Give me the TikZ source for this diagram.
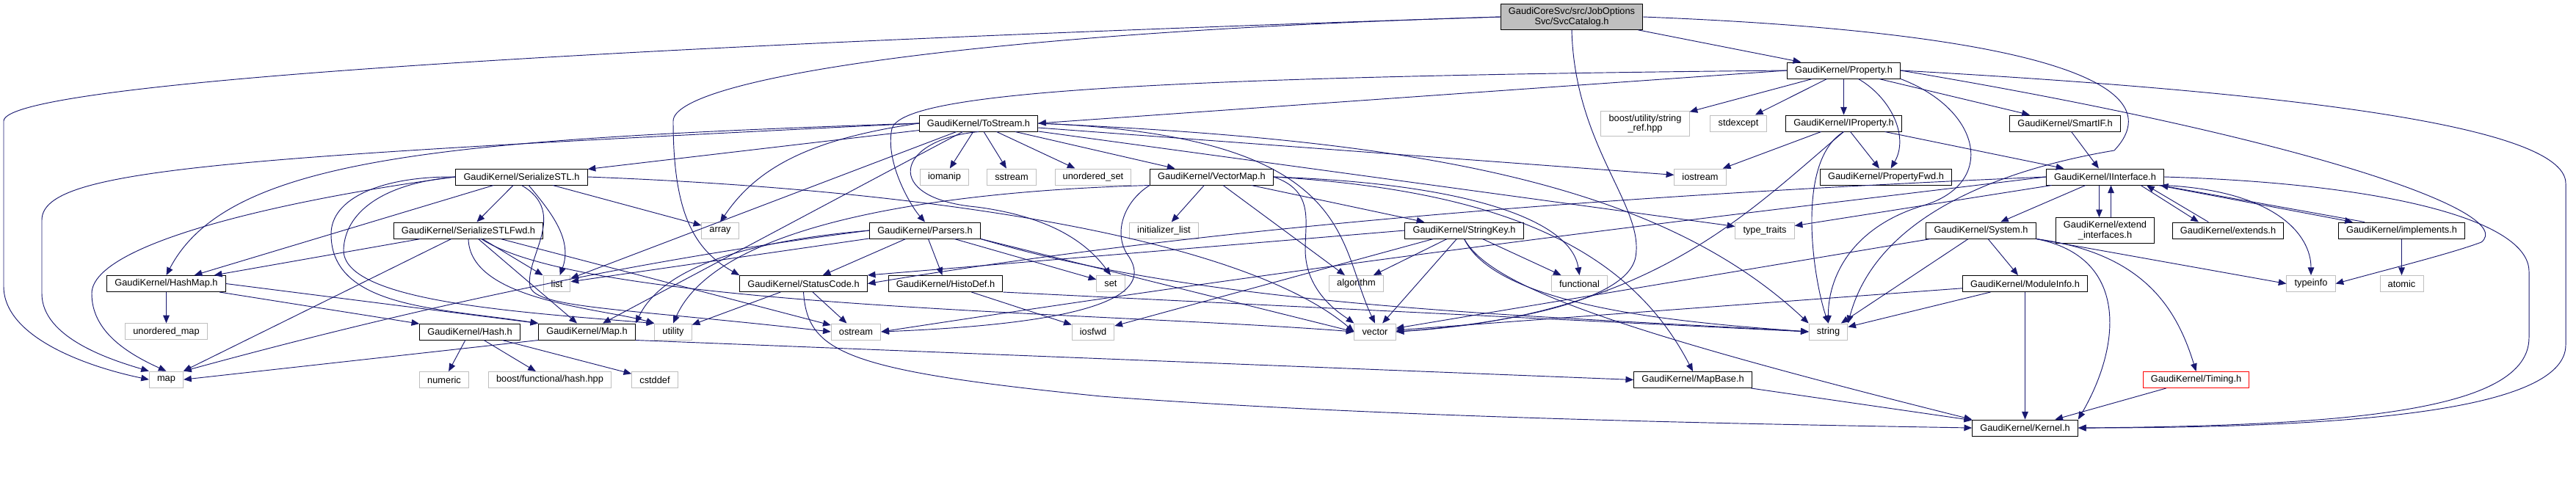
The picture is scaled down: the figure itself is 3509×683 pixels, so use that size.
\documentclass[tikz,border=0pt]{standalone}
\usepackage{fontspec}
\setmainfont{Liberation Sans}
\usetikzlibrary{positioning,arrows.meta}

\tikzstyle{block} = [rectangle, draw=black, line width=0.75pt, fill=white, text centered, align=center, inner xsep=8pt, inner ysep=1pt, minimum height=16.5pt, font=\fontsize{9.6}{10.2}\selectfont]
\tikzstyle{ext} = [block, draw=grey1]
\tikzstyle{rootblock} = [block, fill=grey1, minimum height=26pt]
\tikzstyle{trunc} = [block, draw=red1]
\tikzstyle{dep} = [draw=blue1, line width=0.7pt, -{Triangle[length=8pt, width=6.5pt]}]
\definecolor{blue1}{RGB}{25,25,112}
\definecolor{grey1}{RGB}{191,191,191}
\definecolor{red1}{RGB}{255,0,0}

\begin{document}
\begin{tikzpicture}[x=0.75pt, y=-0.75pt]
	\useasboundingbox (0,0) rectangle (3509,683);
	% Headers
	\node [rootblock] (C01) at (2141,23) {GaudiCoreSvc/src/JobOptions\\Svc/SvcCatalog.h};
	\node [block] (K01) at (2511.5,96) {GaudiKernel/Property.h};
	\node [block] (K02) at (1333,168) {GaudiKernel/ToStream.h};
	\node [ext, minimum height=26pt] (B01) at (2241,168.5) {boost/utility/string\\\_ref.hpp};
	\node [ext] (S01) at (2368,168) {stdexcept};
	\node [block, below of=K01, node distance=54pt] (K03) {GaudiKernel/IProperty.h};
	\node [block] (K04) at (2813,168) {GaudiKernel/SmartIF.h};
	\node [block] (K05) at (710.5,241) {GaudiKernel/SerializeSTL.h};
	\node [ext] (S02) at (1286.5,241) {iomanip};
	\node [ext] (S03) at (1378,241) {sstream};
	\node [ext] (S04) at (1489,241) {unordered\_set};
	\node [block] (K06) at (1650.5,241) {GaudiKernel/VectorMap.h};
	\node [ext] (S05) at (2316,241) {iostream};
	\node [block] (K07) at (2569,241) {GaudiKernel/PropertyFwd.h};
	\node [block] (K08) at (2867.5,241) {GaudiKernel/IInterface.h};
	\node [block] (K09) at (638,314) {GaudiKernel/SerializeSTLFwd.h};
	\node [ext] (S06) at (981,314) {array};
	\node [block] (K10) at (1260,314) {GaudiKernel/Parsers.h};
	\node [ext] (S07) at (1585.5,314) {initializer\_list};
	\node [block] (K11) at (1994.5,314) {GaudiKernel/StringKey.h};
	\node [ext] (S08) at (2404,314) {type\_traits};
	\node [block] (K12) at (2698.5,314) {GaudiKernel/System.h};
	\node [block, minimum height=26pt] (K13) at (2867.5,314) {GaudiKernel/extend\\\_interfaces.h};
	\node [block] (K14) at (3035,314) {GaudiKernel/extends.h};
	\node [block] (K15) at (3271.5,314) {GaudiKernel/implements.h};
	\node [block] (K16) at (226.5,386.5) {GaudiKernel/HashMap.h};
	\node [ext] (S09) at (758.5,386.5) {list};
	\node [block] (K17) at (1094.5,386.5) {GaudiKernel/StatusCode.h};
	\node [block] (K18) at (1288,386.5) {GaudiKernel/HistoDef.h};
	\node [ext] (S10) at (1513,386.5) {set};
	\node [ext] (S11) at (1847.5,386.5) {algorithm};
	\node [ext] (S12) at (2151.5,386.5) {functional};
	\node [block] (K19) at (2758.5,386.5) {GaudiKernel/ModuleInfo.h};
	\node [ext] (S13) at (3148,386.5) {typeinfo};
	\node [ext, below of=K15, node distance=54.4pt] (S14) {atomic};
	\node [ext, below of=K16, node distance=49pt] (S15) {unordered\_map};
	\node [block] (K20) at (640,452) {GaudiKernel/Hash.h};
	\node [block] (K21) at (799.5,452) {GaudiKernel/Map.h};
	\node [ext] (S16) at (917,452) {utility};
	\node [ext] (S17) at (1166,452) {ostream};
	\node [ext] (S18) at (1489,452) {iosfwd};
	\node [ext] (S19) at (1873,452) {vector};
	\node [ext] (S20) at (2490.5,452) {string};
	\node [ext, below of=S15, node distance=49pt] (S21) {map};
	\node [ext] (S22) at (605,517.5) {numeric};
	\node [ext] (B02) at (749,517.5) {boost/functional/hash.hpp};
	\node [ext] (S23) at (892,517.5) {cstddef};
	\node [block] (K22) at (2306,517.5) {GaudiKernel/MapBase.h};
	\node [trunc] (K23) at (2991.5,517.5) {GaudiKernel/Timing.h};
	\node [block, below of=K19, node distance=147.4pt] (K24) {GaudiKernel/Kernel.h};

	% Includes
	\draw [dep] (C01) to (K01);
	\draw [dep] (C01.west) .. controls (1300,45) and (917,110) .. (917,165) .. controls (917,290) and (945,340) .. (K17.north west);
	\draw [dep] (C01.west) .. controls (900,60) and (5,110) .. (5,165) -- (5,390) .. controls (5,460) and (120,500) .. (S21.west);
	\draw [dep] (C01.south) .. controls (2145,200) and (2240,280) .. (2228,350) .. controls (2215,420) and (2000,445) .. (S19.east);
	\draw [dep] (C01.east) .. controls (2800,45) and (2960,120) .. (2880,205) .. controls (2760,225) and (2560,280) .. (S20.north east);

	\draw [dep] (K01.west) to (K02.east);
	\draw [dep] (K01.west) .. controls (1500,105) and (1230,130) .. (1215,175) .. controls (1205,220) and (1240,280) .. (K10.north);
	\draw [dep] (K01) to (B01);
	\draw [dep] (K01) to (S01);
	\draw [dep] (K01) to (K03);
	\draw [dep] (K01) to[out=-30, in=60] (K07);
	\draw [dep] (K01.south east) .. controls (2700,150) and (2720,250) .. (2620,280) .. controls (2520,310) and (2490,380) .. (S20.north);
	\draw [dep] (K01) to (K04);
	\draw [dep] (K01.east) .. controls (3150,190) and (3430,290) .. (3380,330) .. controls (3340,345) and (3260,365) .. (S13.east);
	\draw [dep] (K01.east) .. controls (3200,130) and (3495,180) .. (3495,250) -- (3495,470) .. controls (3495,560) and (3200,583) .. (K24.east);

	\draw [dep] (K03) to (S05);
	\draw [dep] (K03.south) .. controls (2445,220) and (2470,380) .. (S20.north);
	\draw [dep] (K03.south) .. controls (2380,290) and (2250,430) .. (S19.east);
	\draw [dep] (K03) to (K07);
	\draw [dep] (K03) to (K08);
	\draw [dep] (K04) to (K08);

	\draw [dep] (K08.west) .. controls (2300,262) and (1700,300) .. (K17.east);
	\draw [dep] (K08.west) .. controls (2300,300) and (1900,345) .. (S17.east);
	\draw [dep] (K08) to (S08);
	\draw [dep] (K08) to (K12);
	\draw [dep] ([xshift=-6pt]K08.south) to ([xshift=-6pt]K13.north);
	\draw [dep] ([xshift=6pt]K13.north) to ([xshift=6pt]K08.south);
	\draw [dep] ([xshift=-24pt]K08.south east) to ([xshift=-30pt]K14.north);
	\draw [dep] ([xshift=-20pt]K14.north) to ([xshift=-18pt]K08.south east);
	\draw [dep] ([xshift=-6pt]K08.south east) to ([xshift=-50pt]K15.north);
	\draw [dep] ([xshift=-38pt]K15.north) to ([xshift=-4pt]K08.south east);
	\draw [dep] (K08.south east) .. controls (3100,260) and (3148,320) .. (S13.north);
	\draw [dep] (K08.east) .. controls (3250,250) and (3445,300) .. (3445,370) -- (3445,460) .. controls (3445,560) and (3200,580) .. (K24.east);
	\draw [dep] (K15) to (S14);

	\draw [dep] (K12) to (S19);
	\draw [dep] (K12) to (S20);
	\draw [dep] (K12) to (K19);
	\draw [dep] (K12.south east) .. controls (2900,350) and (2890,470) .. (K24.north east);
	\draw [dep] (K12.south east) to (S13.west);
	\draw [dep] (K12.south east) .. controls (2920,345) and (2965,420) .. (K23.north);
	\draw [dep] (K19) to (S19);
	\draw [dep] (K19) to (S20);
	\draw [dep] (K19) to (K24);
	\draw [dep] (K23) to (K24);
	\draw [dep] (K22) to (K24);

	\draw [dep] (K02) to (S02);
	\draw [dep] (K02) to (S03);
	\draw [dep] (K02) to (S04);
	\draw [dep] (K02) to (K06);
	\draw [dep] (K02) to (K05);
	\draw [dep] (K02.west) .. controls (600,190) and (310,215) .. (K16.north);
	\draw [dep] (K02) to (K21);
	\draw [dep] (K02.west) .. controls (300,215) and (57,230) .. (57,300) -- (57,400) .. controls (57,460) and (150,490) .. (S21.north west);
	\draw [dep] (K02) to (S09);
	\draw [dep] (K02.west) .. controls (1100,190) and (1030,230) .. (S06.north);
	\draw [dep] (K02.south) .. controls (1220,190) and (1200,270) .. (1330,282) .. controls (1430,295) and (1480,330) .. (S10.north);
	\draw [dep] (K02) to (S05);
	\draw [dep] (K02.east) .. controls (1900,190) and (2250,240) .. (S20.north west);
	\draw [dep] (K02.east) .. controls (1850,185) and (1820,330) .. (S19.north);
	\draw [dep] (K02) to (S08);

	\draw [dep] (K05) to (K09);
	\draw [dep] (K05) to (S06);
	\draw [dep] (K05) to[out=-50, in=70] (S09);
	\draw [dep] (K05) to (K16);
	\draw [dep] (K05.west) .. controls (520,240) and (450,270) .. (451,320) .. controls (452,420) and (600,420) .. (K21.north west);
	\draw [dep] (K05.west) .. controls (400,270) and (125,330) .. (125,400) .. controls (125,450) and (170,480) .. (S21.north);
	\draw [dep] (K05.south) .. controls (775,290) and (715,350) .. (722,390) .. controls (728,420) and (850,420) .. (S17.west);
	\draw [dep] (K05.west) .. controls (520,250) and (470,290) .. (468,340) .. controls (466,410) and (700,425) .. (S16.north west);
	\draw [dep] (K05.east) .. controls (1300,260) and (1700,330) .. (S19.west);

	\draw [dep] (K09) to (S09);
	\draw [dep] (K09) to (K16);
	\draw [dep] (K09) to (S21);
	\draw [dep] (K09) to (K21);
	\draw [dep] (K09.south) .. controls (640,410) and (820,420) .. (S16.north west);
	\draw [dep] (K09) to (S17);
	\draw [dep] (K09) .. controls (800,420) and (1500,425) .. (S19.west);

	\draw [dep] (K16) to (S15);
	\draw [dep] (K16) to (K20);
	\draw [dep] (K16.east) to (K21.north west);
	\draw [dep] (K20) to (S22);
	\draw [dep] (K20) to (B02);
	\draw [dep] (K20) to (S23);
	\draw [dep] (K21.south west) to (S21.east);
	\draw [dep] (K21.south east) to (K22.west);

	\draw [dep] (K06) to (S07);
	\draw [dep] (K06) to (K11);
	\draw [dep] (K06.east) .. controls (2050,260) and (2220,340) .. (K22.north);
	\draw [dep] (K06.south west) .. controls (1530,275) and (1515,320) .. (1538,350) .. controls (1570,400) and (1500,440) .. (S17.east);
	\draw [dep] (K06.south west) .. controls (1300,260) and (980,300) .. (S16.north);
	\draw [dep] (K06) to (S11);
	\draw [dep] (K06.east) .. controls (2000,250) and (2140,300) .. (S12.north);
	\draw [dep] (K06.east) .. controls (1790,260) and (1778,300) .. (1778,340) .. controls (1778,400) and (1830,430) .. (S19.north west);

	\draw [dep] (K11) to (S11);
	\draw [dep] (K11) to (S12);
	\draw [dep] (K11) to (S19);
	\draw [dep] (K11.south) .. controls (2040,420) and (2300,440) .. (S20.west);
	\draw [dep] (K11.south) .. controls (2030,390) and (2200,450) .. (K24.north west);
	\draw [dep] (K11.west) to (K17.north east);
	\draw [dep] (K11) to (S18);

	\draw [dep] (K10) to (K18);
	\draw [dep] (K10) to (S10);
	\draw [dep] (K10) to (S09);
	\draw [dep] (K10) to (K17);
	\draw [dep] (K10.west) .. controls (1000,330) and (900,370) .. (K21.north east);
	\draw [dep] (K10.west) .. controls (900,350) and (600,410) .. (S21.north east);
	\draw [dep] (K10.south east) .. controls (1650,420) and (2100,430) .. (S20.west);
	\draw [dep] (K10.south east) to (S19.west);

	\draw [dep] (K18) to (S18);
	\draw [dep] (K18.south east) to (S20.west);
	\draw [dep] (K17) to (S17);
	\draw [dep] (K17) to (S16);
	\draw [dep] (K17.south) .. controls (1100,480) and (1150,505) .. (1500,540) .. controls (1900,570) and (2400,578) .. (K24.west);
\end{tikzpicture}
\end{document}
